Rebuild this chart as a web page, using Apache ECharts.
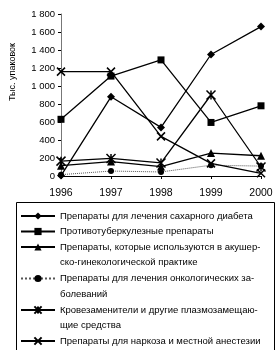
<!DOCTYPE html>
<html><head><meta charset="utf-8">
<script src="https://cdn.jsdelivr.net/npm/echarts@6/dist/echarts.min.js"></script>
<style>html,body{margin:0;padding:0;background:#fff}#c{width:280px;height:350px}</style>
</head><body><div id="c"></div>
<script>
var years = ['1996','1997','1998','1999','2000'];
var yTicks = [0,200,400,600,800,1000,1200,1400,1600,1800];
var names = [
  'Препараты для лечения сахарного диабета',
  'Противотуберкулезные препараты',
  'Препараты, которые используются в акушер-\nско-гинекологической практике',
  'Препараты для лечения онкологических за-\nболеваний',
  'Кровезаменители и другие плазмозамещаю-\nщие средства',
  'Препараты для наркоза и местной анестезии'
];
var diabetes = [5, 880, 540, 1350, 1660];
var tuberculosis = [630, 1110, 1290, 595, 780];
var obstetric = [115, 160, 105, 255, 225];
var oncology = [15, 55, 45, 120, 110];
var bloodSubst = [165, 195, 145, 900, 100];
var anesthesia = [1160, 1160, 440, 140, 30];

var seriesData = [diabetes, tuberculosis, obstetric, oncology, bloodSubst, anesthesia];
var symbols = ['diamond','rect','triangle','circle',
  'path://M0,0L10,10M10,0L0,10M5,0L5,10',
  'path://M0,0L10,10M10,0L0,10'];
var symSizes = [8,7,8,6,9,8];
var lineTypes = ['solid','solid','solid','dotted','solid','solid'];
var lineColors = ['#000','#000','#000','#555','#000','#000'];
var font = "'Liberation Sans',Arial,sans-serif";

var series = seriesData.map(function(d,i){
  var isPath = symbols[i].indexOf('path://')===0;
  return {
    name: names[i], type:'line', data:d,
    symbol: symbols[i], symbolSize: symSizes[i], showAllSymbol:true,
    lineStyle:{color:lineColors[i], width: i===3?1:1.3, type: lineTypes[i]},
    itemStyle:{color: isPath?'none':'#000', borderColor:'#000', borderWidth: isPath?1.5:0},
    emphasis:{disabled:true}, animation:false
  };
});

var legendCenters = [216, 231.5, 247, 278.5, 310, 341];
var L = 15.5;
var legends = names.map(function(n,i){
  var two = n.indexOf('\n')>=0;
  return {
    data:[n], left:20, top: two ? legendCenters[i]-1.5*L : legendCenters[i]-L/2,
    padding:0, itemWidth:34, itemHeight:9, itemGap:6,
    selectedMode:false,
    formatter: function(name){ return name.indexOf('\n')>=0 ? '\n'+name : name; },
    textStyle:{fontFamily:font, fontSize:9.5, color:'#000', lineHeight:L}
  };
});

var chart = echarts.init(document.getElementById('c'), null, {renderer:'canvas'});
chart.setOption({
  backgroundColor:'#fff',
  animation:false,
  grid:{left:61, right:19, top:14, bottom:174},
  xAxis:{type:'category', data:years, boundaryGap:false,
    axisLine:{lineStyle:{color:'#000', width:1}},
    axisTick:{show:true, length:3, lineStyle:{color:'#000'}},
    axisLabel:{fontFamily:font, fontSize:10.5, color:'#000', margin:12}},
  yAxis:{type:'value', min:0, max:1800, interval:200,
    axisLine:{show:true, lineStyle:{color:'#777', width:1}},
    axisTick:{show:true, inside:false, length:3, lineStyle:{color:'#000'}},
    splitLine:{show:false},
    axisLabel:{fontFamily:font, fontSize:9.5, color:'#000', margin:6,
      formatter:function(v){ return String(v).replace(/\B(?=(\d{3})+(?!\d))/g,' '); }}},
  legend: legends,
  graphic:[
    {type:'rect', left:14, top:200, shape:{width:258, height:148}, style:{fill:'none', stroke:'#000', lineWidth:1}, silent:true},
    {type:'text', x:13, y:72, rotation:Math.PI/2, style:{text:'Тыс. упаковок', fontFamily:font, fontSize:9, fill:'#000', align:'center', verticalAlign:'middle'}}
  ],
  series: series
});
</script></body></html>
